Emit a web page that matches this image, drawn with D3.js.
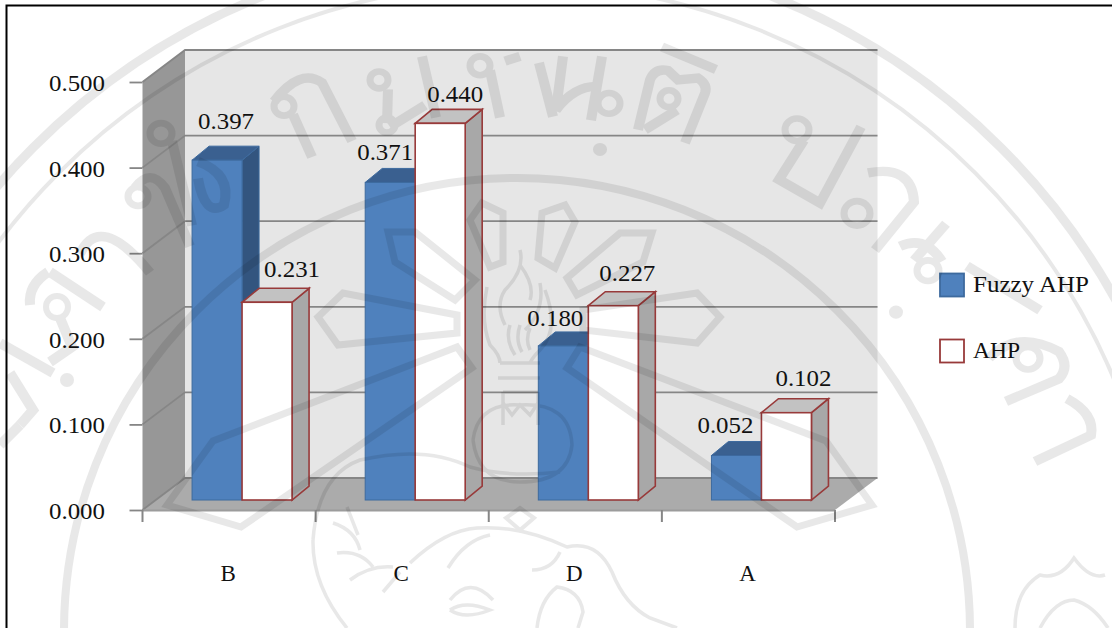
<!DOCTYPE html>
<html>
<head>
<meta charset="utf-8">
<script src="https://cdn.jsdelivr.net/npm/d3@7/dist/d3.min.js"></script>
<style>
html,body{margin:0;padding:0;background:#fff;overflow:hidden}
svg{display:block}
text{font-family:"Liberation Serif",serif;fill:#111}
</style>
</head>
<body>
<svg id="chart" width="1112" height="628"></svg>
<script>
// Chart values
const categories = ["B", "C", "D", "A"];
const seriesNames = ["Fuzzy AHP", "AHP"];
const fuzzyAhp = [0.397, 0.371, 0.180, 0.052];
const ahp = [0.231, 0.440, 0.227, 0.102];
const yTicks = [0, 0.1, 0.2, 0.3, 0.4, 0.5];

// Hand-placed data label nudges (dx from bar's left edge, dy from bar's top)
const fuzzyLabelNudge = [[34, -31], [20, -22], [17, -20], [14, -22]];
const ahpLabelNudge = [[50, -25], [40, -21], [39, -25], [42, -27]];

const svg = d3.select("#chart");
const W = 1112, H = 628;

// Frame lines
svg.append("path").attr("d", `M6.5,${H} V5.5 H${W}`).attr("fill", "none").attr("stroke", "#000").attr("stroke-width", 2);

// 3D box geometry
const plotLeft = 142.5, plotRight = 835, plotBottom = 510, plotTop = 82;
const depthX = 42.5, depthY = -32;
const barDepthX = 17, barDepthY = -14;
const barInsetX = 13, barInsetY = -10;
const labelWidth = 56;

const x = d3.scaleBand().domain(categories).range([plotLeft, plotRight]);
const xSeries = d3.scaleBand().domain(seriesNames).range([0, 100]);
const y = d3.scaleLinear().domain([0, 0.5]).range([plotBottom, plotTop]);
const groupPad = (x.bandwidth() - 100) / 2;

const poly = pts => "M" + pts.map(p => p.join(",")).join("L") + "Z";

const box = svg.append("g");
// Back wall, side wall, floor
box.append("path").attr("d", poly([[plotLeft + depthX, y(0.5) + depthY], [plotRight + depthX, y(0.5) + depthY], [plotRight + depthX, plotBottom + depthY], [plotLeft + depthX, plotBottom + depthY]])).attr("fill", "#e6e6e6");
box.append("path").attr("d", poly([[plotLeft, plotTop], [plotLeft + depthX, plotTop + depthY], [plotLeft + depthX, plotBottom + depthY], [plotLeft, plotBottom]])).attr("fill", "#979797");
box.append("path").attr("d", poly([[plotLeft, plotBottom], [plotLeft + depthX, plotBottom + depthY], [plotRight + depthX, plotBottom + depthY], [plotRight, plotBottom]])).attr("fill", "#ababab");

// Gridlines run along the side wall and across the back wall
const grid = box.append("g").attr("fill", "none").attr("stroke", "#868686");
grid.selectAll("path").data(yTicks).join("path")
  .attr("d", d => `M${plotLeft},${y(d)} L${plotLeft + depthX},${y(d) + depthY} H${plotRight + depthX}`)
  .attr("stroke-width", 1.8);

// Front floor edge
box.append("line").attr("x1", plotLeft).attr("x2", plotRight).attr("y1", plotBottom + 0.5).attr("y2", plotBottom + 0.5).attr("stroke", "#9c9c9c").attr("stroke-width", 2);

// Axes
const yAxis = d3.axisLeft(y).tickValues(yTicks).tickSize(13).tickFormat(d3.format(".3f"));
const yG = svg.append("g").attr("transform", `translate(${plotLeft},0)`).call(yAxis);
yG.select(".domain").remove();
yG.selectAll("line").attr("stroke", "#868686").attr("stroke-width", 1.8);
yG.selectAll("text").attr("x", 49 - plotLeft).attr("dy", "0.38em").attr("text-anchor", "start")
  .attr("font-size", 22.5).attr("textLength", labelWidth).attr("lengthAdjust", "spacingAndGlyphs")
  .attr("fill", "#111").style("font-family", '"Liberation Serif",serif');

const xAxis = d3.axisBottom(x).tickSize(0).tickPadding(55);
const xG = svg.append("g").attr("transform", `translate(-1,${plotBottom})`).call(xAxis);
xG.select(".domain").remove();
xG.selectAll("text").attr("font-size", 23).attr("fill", "#111").style("font-family", '"Liberation Serif",serif');
svg.append("g").selectAll("line").data(d3.range(categories.length + 1)).join("line")
  .attr("x1", i => plotLeft + i * x.bandwidth()).attr("x2", i => plotLeft + i * x.bandwidth())
  .attr("y1", plotBottom).attr("y2", plotBottom + 12).attr("stroke", "#868686").attr("stroke-width", 2);

// One 3D bar: front face, top and right side
const styles = {
  "Fuzzy AHP": {front: "#4f81bd", top: "#3a6090", side: "#33557f", stroke: "#3d6a9e", sw: 1},
  "AHP": {front: "#ffffff", top: "#c2c2c2", side: "#a8a8a8", stroke: "#983a3a", sw: 1.6}
};
function drawBar(g, cat, name, v) {
  const s = styles[name];
  const bw = xSeries.bandwidth();
  const x0 = x(cat) + groupPad + barInsetX + xSeries(name);
  const x1 = x0 + bw;
  const yTop = y(v) + barInsetY;
  const yBase = y(0) + barInsetY;
  const dx = barDepthX, dy = barDepthY;
  g.append("path").attr("d", poly([[x1, yTop], [x1 + dx, yTop + dy], [x1 + dx, yBase + dy], [x1, yBase]]))
    .attr("fill", s.side).attr("stroke", s.stroke).attr("stroke-width", s.sw);
  g.append("path").attr("d", poly([[x0, yTop], [x0 + dx, yTop + dy], [x1 + dx, yTop + dy], [x1, yTop]]))
    .attr("fill", s.top).attr("stroke", s.stroke).attr("stroke-width", s.sw);
  g.append("rect").attr("x", x0).attr("y", yTop).attr("width", bw).attr("height", yBase - yTop)
    .attr("fill", s.front).attr("stroke", s.stroke).attr("stroke-width", s.sw);
}
const bars = svg.append("g");
categories.forEach((c, i) => {
  const g = bars.append("g");
  drawBar(g, c, seriesNames[0], fuzzyAhp[i]);
  drawBar(g, c, seriesNames[1], ahp[i]);
});

// Value labels
const labels = svg.append("g").attr("font-size", 22.5).attr("text-anchor", "middle");
categories.forEach((c, i) => {
  const x0 = x(c) + groupPad + barInsetX;
  labels.append("text").text(d3.format(".3f")(fuzzyAhp[i]))
    .attr("textLength", labelWidth).attr("lengthAdjust", "spacingAndGlyphs")
    .attr("x", x0 + xSeries(seriesNames[0]) + fuzzyLabelNudge[i][0])
    .attr("y", y(fuzzyAhp[i]) + barInsetY + fuzzyLabelNudge[i][1]);
  labels.append("text").text(d3.format(".3f")(ahp[i]))
    .attr("textLength", labelWidth).attr("lengthAdjust", "spacingAndGlyphs")
    .attr("x", x0 + xSeries(seriesNames[1]) + ahpLabelNudge[i][0])
    .attr("y", y(ahp[i]) + barInsetY + ahpLabelNudge[i][1]);
});

// Legend
const legend = svg.append("g");
const legendTextWidths = [116, 47];
seriesNames.forEach((name, i) => {
  const s = styles[name];
  const ly = i === 0 ? 273.5 : 339.5;
  legend.append("rect").attr("x", 940).attr("y", ly).attr("width", 24).attr("height", 23)
    .attr("fill", s.front).attr("stroke", name === "AHP" ? s.stroke : "#3d6a9e").attr("stroke-width", 1.8);
  legend.append("text").text(name).attr("x", 973).attr("y", ly + 18)
    .attr("font-size", 22.5).attr("textLength", legendTextWidths[i]).attr("lengthAdjust", "spacingAndGlyphs");
});

// Seal printed faintly over the whole page
const seal = svg.append("g").attr("opacity", 0.085).attr("fill", "none").attr("stroke", "#000").attr("stroke-linecap", "butt").attr("stroke-linejoin", "miter");
[[684, 9], [648, 4], [453, 8]].forEach(([r, w]) => {
  seal.append("circle").attr("cx", 517).attr("cy", 631).attr("r", r).attr("stroke-width", w);
});

// Lettering around the ring
const sealInner = seal.append("g").attr("transform", "scale(1,0.94)");
[
  "M274,108 Q300,72 322,88 L352,150", "M293,122 L312,167",
  "M388,95 L387,131", "M422,60 L436,125", "M390,135 L425,112",
  "M490,75 L500,125", "M539,67 L553,124", "M505,65 L520,60",
  "M602,60 L591,128", "M563,60 L556,117 Q575,90 600,92",
  "M662,50 L716,74", "M638,138 L650,85 Q655,72 668,75 L678,85 L698,83 Q708,90 705,99 L685,152", "M645,138 L677,117",
  "M804,149 L779,191 L820,216 L861,135",
  "M868,184 Q912,175 914,215 L875,266",
  "M946,238 L914,277", "M900,262 Q925,250 942,278",
  "M967,283 L1040,330",
  "M989,381 Q1017,350 1059,374 Q1070,390 1059,403 L1006,427",
  "M1067,424 Q1095,440 1091,463 L1035,491",
  "M172,150 L192,240", "M135,200 Q150,178 165,200 L190,262",
  "M198,172 Q232,185 224,218 Q205,232 198,190",
  "M80,270 Q100,225 150,290"
].forEach(d => sealInner.append("path").attr("d", d).attr("stroke-width", 10));

[[284, 113, 10], [379, 85, 9], [387, 133, 8], [480, 70, 10], [609, 110, 11], [669, 105, 9],
 [797, 138, 12], [857, 227, 13], [928, 288, 11], [1028, 381, 12], [161, 142, 11], [138, 209, 10]]
  .forEach(([cx, cy, r]) => sealInner.append("circle").attr("cx", cx).attr("cy", cy).attr("r", r).attr("stroke-width", 7));
[[600, 159, 7], [896, 332, 7]]
  .forEach(([cx, cy, r]) => sealInner.append("circle").attr("cx", cx).attr("cy", cy).attr("r", r).attr("fill", "#000").attr("stroke", "none"));

// Lettering at the far left of the ring
const sealLeft = seal.append("g");
[
  "M50,272 L103,307", "M30,305 Q28,285 48,272", "M60,318 L72,347 L50,362",
  "M0,343 L53,373", "M10,373 L33,410 L20,425", "M0,445 L20,425"
].forEach(d => sealLeft.append("path").attr("d", d).attr("stroke-width", 10));
sealLeft.append("circle").attr("cx", 57).attr("cy", 307).attr("r", 11).attr("stroke-width", 6);
sealLeft.append("circle").attr("cx", 67).attr("cy", 380).attr("r", 7).attr("fill", "#000").attr("stroke", "none");

// Radial petals of the emblem
const emblem = seal.append("g");
[
  [[388, 232], [415, 232], [475, 280], [455, 300], [395, 262]],
  [[470, 220], [482, 203], [503, 213], [503, 262], [490, 267]],
  [[542, 213], [565, 205], [575, 222], [555, 268], [538, 258]],
  [[620, 233], [652, 233], [643, 262], [577, 295], [567, 278]],
  [[318, 317], [343, 293], [457, 315], [457, 333], [338, 345]],
  [[697, 293], [720, 317], [697, 343], [583, 330], [583, 310]],
  [[457, 347], [472, 368], [241, 527], [167, 505], [213, 441]],
  [[580, 347], [567, 368], [797, 527], [872, 505], [826, 441]]
].forEach(pts => emblem.append("path").attr("d", poly(pts)).attr("stroke-width", 7));

// Torch, flame and the elephant at the foot of the seal
[
  "M520,250 Q525,270 505,290 Q495,305 505,325 M520,265 Q535,285 530,300 M540,283 Q545,310 525,330",
  "M487,287 Q480,320 490,345 Q500,355 500,363 M545,290 Q560,330 540,350 Q532,358 530,363",
  "M510,325 Q505,340 515,355 M520,325 Q515,340 522,352 M530,328 Q525,340 530,350",
  "M500,363 H540 M498,378 H540 M503,392 H538 M503,392 V425 M538,392 V425",
  "M503,403 L512,415 L520,405 L530,415 L538,403",
  "M473,440 Q478,402 520,405 Q570,402 572,445 Q568,482 520,482 Q478,482 473,440",
  "M313,540 Q318,475 360,460 Q425,445 470,467 Q510,478 560,472",
  "M313,540 Q312,585 347,628",
  "M333,523 Q355,530 360,550 M337,553 Q360,550 373,567 M350,580 Q370,565 393,567 M383,592 L400,572 M347,507 L358,535",
  "M410,563 Q445,530 477,528 Q520,525 567,547 Q597,540 612,572 Q625,605 650,618 L677,628",
  "M448,568 Q465,540 490,535",
  "M532,570 Q552,570 560,552",
  "M450,600 Q470,575 493,600",
  "M450,610 Q465,600 490,610 Q465,620 450,610",
  "M537,628 Q540,600 557,587 Q580,590 583,612 L578,628",
  "M1015,628 Q1015,590 1040,575 Q1060,580 1074,558 Q1090,580 1105,575",
  "M1040,628 Q1055,600 1074,600 Q1093,605 1108,628"
].forEach(d => emblem.append("path").attr("d", d).attr("stroke-width", 3.5));
emblem.append("path").attr("d", poly([[520, 508], [534, 518], [520, 530], [506, 518]])).attr("stroke-width", 4);
</script>
</body>
</html>
